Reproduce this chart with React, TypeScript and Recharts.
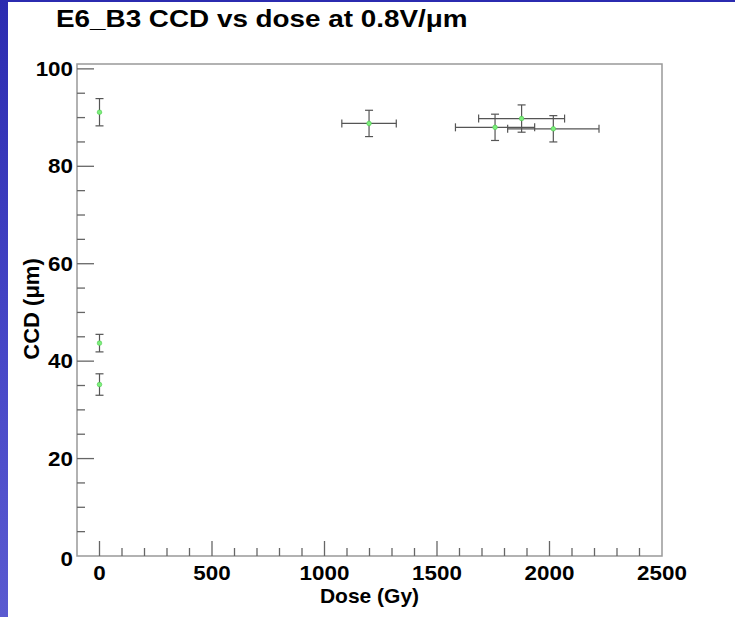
import React from "react";
import { ScatterChart, Scatter, XAxis, YAxis, ErrorBar, ReferenceArea } from "recharts";

// dose (Gy) and charge collection distance (um)
const doses = [0, 0, 0, 1198, 1758, 1876, 2017];
const doseErrs = [0, 0, 0, 121, 176, 191, 203];
const ccds = [91.1, 43.7, 35.2, 88.8, 88.0, 89.8, 87.7];
const ccdErrs = [2.8, 1.8, 2.2, 2.7, 2.7, 2.8, 2.7];

const xTicks = [
  0, 100, 200, 300, 400, 500, 600, 700, 800, 900, 1000, 1100, 1200, 1300, 1400,
  1500, 1600, 1700, 1800, 1900, 2000, 2100, 2200, 2300, 2400, 2500,
];
const yTicks = [
  0, 5, 10, 15, 20, 25, 30, 35, 40, 45, 50, 55, 60, 65, 70, 75, 80, 85, 90, 95, 100,
];

const data = doses.map((d, i) => ({
  dose: d,
  doseErr: doseErrs[i],
  ccd: ccds[i],
  ccdErr: ccdErrs[i],
}));

const FONT = "'Liberation Sans', Arial, Helvetica, sans-serif";

function XTick(props: any) {
  const { x, y, payload } = props;
  const v = payload.value;
  const major = v % 500 === 0;
  return (
    <g>
      {v < 2500 && (
        <line x1={x} y1={y} x2={x} y2={y - (major ? 15 : 8)} stroke="#666" strokeWidth={1.3} />
      )}
      {major && (
        <text
          transform={`translate(${x},${y + 24}) scale(1.12,1)`}
          textAnchor="middle"
          fontFamily={FONT}
          fontWeight="bold"
          fontSize={20}
          fill="#000"
        >
          {v}
        </text>
      )}
    </g>
  );
}

function YTick(props: any) {
  const { x, y, payload } = props;
  const v = payload.value;
  const major = v % 20 === 0;
  return (
    <g>
      {v > 0 && (
        <line x1={x} y1={y} x2={x + (major ? 17 : 8)} y2={y} stroke="#666" strokeWidth={1.3} />
      )}
      {major && (
        <text
          transform={`translate(${x - 4},${y + (v === 0 ? 10 : 7)}) scale(1.12,1)`}
          textAnchor="end"
          fontFamily={FONT}
          fontWeight="bold"
          fontSize={20}
          fill="#000"
        >
          {v}
        </text>
      )}
    </g>
  );
}

function Dot(props: any) {
  const { cx, cy } = props;
  return <circle cx={cx} cy={cy} r={2.3} fill="#7cf07c" stroke="#4cc84c" strokeWidth={0.6} />;
}

export default function App() {
  return (
    <div
      style={{
        position: "absolute",
        left: 0,
        top: 0,
        width: 735,
        height: 617,
        background: "#fff",
        overflow: "hidden",
      }}
    >
      <div
        style={{
          position: "absolute",
          left: 0,
          top: 0,
          width: 735,
          height: 2,
          background: "#2b2bb0",
        }}
      />
      <div
        style={{
          position: "absolute",
          left: 0,
          top: 0,
          width: 8,
          height: 617,
          background: "linear-gradient(#2b2bb0, #4848c8 60%, #5a5ad0)",
        }}
      />
      <div
        style={{
          position: "absolute",
          left: 56,
          top: 7,
          fontFamily: FONT,
          fontWeight: "bold",
          fontSize: 24,
          lineHeight: "24px",
          whiteSpace: "nowrap",
          transform: "scaleX(1.16)",
          transformOrigin: "left top",
        }}
      >
        E6_B3 CCD vs dose at 0.8V/μm
      </div>
      <ScatterChart
        width={735}
        height={617}
        margin={{ top: 64, right: 73, bottom: 0, left: 0 }}
        style={{ position: "absolute", left: 0, top: 0 }}
      >
        <ReferenceArea
          x1={-100}
          x2={2500}
          y1={0}
          y2={101}
          fill="none"
          stroke="#999"
          strokeWidth={1.5}
          ifOverflow="visible"
        />
        <XAxis
          type="number"
          dataKey="dose"
          domain={[-100, 2500]}
          ticks={xTicks}
          interval={0}
          allowDataOverflow
          height={61}
          axisLine={false}
          tickLine={false}
          tickSize={0}
          tickMargin={0}
          tick={<XTick />}
          label={{
            value: "Dose (Gy)",
            position: "insideBottom",
            offset: 14,
            fontFamily: FONT,
            fontWeight: "bold",
            fontSize: 21,
            fill: "#000",
          }}
        />
        <YAxis
          type="number"
          dataKey="ccd"
          domain={[0, 101]}
          ticks={yTicks}
          interval={0}
          allowDataOverflow
          width={77}
          axisLine={false}
          tickLine={false}
          tickSize={0}
          tickMargin={0}
          tick={<YTick />}
          label={{
            content: () => (
              <text
                x={39}
                y={309}
                transform="rotate(-90 39 309)"
                textAnchor="middle"
                fontFamily={FONT}
                fontWeight="bold"
                fontSize={22}
                fill="#000"
              >
                CCD (μm)
              </text>
            ),
          }}
        />
        <Scatter data={data} shape={<Dot />} isAnimationActive={false}>
          <ErrorBar dataKey="doseErr" direction="x" width={4} stroke="#555" strokeWidth={1.2} />
          <ErrorBar dataKey="ccdErr" direction="y" width={4} stroke="#555" strokeWidth={1.2} />
        </Scatter>
      </ScatterChart>
    </div>
  );
}
